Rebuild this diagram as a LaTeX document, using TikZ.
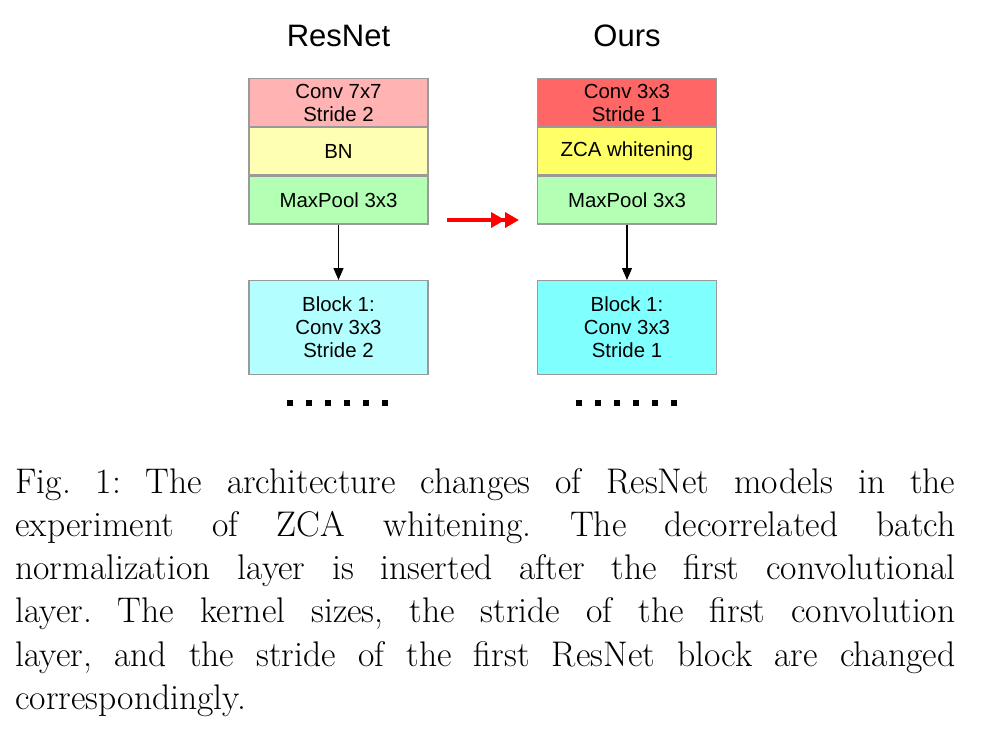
\documentclass[tikz,border=0pt]{standalone}
\usepackage{fontspec}
\setsansfont{Liberation Sans}
\usetikzlibrary{arrows.meta, positioning}
\definecolor{convA}{HTML}{FFB3B3}
\definecolor{convB}{HTML}{FF6666}
\definecolor{normA}{HTML}{FFFFB3}
\definecolor{normB}{HTML}{FFFF66}
\definecolor{poolC}{HTML}{B3FFB3}
\definecolor{blockA}{HTML}{B3FFFF}
\definecolor{blockB}{HTML}{80FFFF}
\definecolor{edge}{HTML}{9A9A9A}
\tikzset{layer/.style={rectangle,draw=edge,line width=0.6pt,align=center,inner sep=0pt,minimum width=89.5bp,minimum height=24bp,font=\sffamily\fontsize{10.2bp}{11.5bp}\selectfont},
  blk/.style={layer,minimum height=47bp},
  head/.style={font=\sffamily\fontsize{15.5bp}{18bp}\selectfont},
  line/.style={-{Triangle[length=6bp,width=5bp]},line width=0.6pt},
  redline/.style={-{Triangle[length=7bp,width=7.5bp]Triangle[length=7bp,width=7.5bp]},red,line width=1.8pt}}

\begin{document}
\begin{tikzpicture}[x=0.5bp,y=0.5bp,node distance=0pt and 0pt]
\useasboundingbox (0,0) rectangle (984,-730);
\node[head] (t1) at (338.5,-36) {ResNet};
\node[head] (t2) at (627,-36) {Ours};
% left column
\node[layer,fill=convA,anchor=north] (c1) at (338.5,-78) {Conv 7x7\\Stride 2};
\node[layer,fill=normA,below=of c1,minimum height=23.5bp] (n1) {BN};
\node[layer,fill=poolC,below=of n1] (p1) {MaxPool 3x3};
\node[blk,fill=blockA,anchor=north] (b1) at (338.5,-280) {Block 1:\\Conv 3x3\\Stride 2};
% right column
\node[layer,fill=convB,anchor=north] (c2) at (627,-78) {Conv 3x3\\Stride 1};
\node[layer,fill=normB,below=of c2,minimum height=23.5bp] (n2) {ZCA whitening};
\node[layer,fill=poolC,below=of n2] (p2) {MaxPool 3x3};
\node[blk,fill=blockB,anchor=north] (b2) at (627,-280) {Block 1:\\Conv 3x3\\Stride 1};
\draw[line] (p1) -- (b1);
\draw[line] (p2) -- (b2);
\coordinate (r1) at (447,-220);
\coordinate (r2) at (519,-220);
\draw[redline] (r1) -- (r2);
% dots
\foreach \i in {0,...,5} {
  \fill (290+19*\i-3,-400) rectangle ++(6,-6);
  \fill (579+19*\i-3,-400) rectangle ++(6,-6);
}
\node[anchor=north west,text width=470bp,align=justify,inner sep=0pt,font=\fontsize{17.8bp}{21.6bp}\selectfont\frenchspacing] (cap) at (15,-468) {Fig. 1: The architecture changes of ResNet models in the\linebreak experiment of ZCA whitening. The decorrelated batch\linebreak normalization layer is inserted after the first convolutional\linebreak layer. The kernel sizes, the stride of the first convolution\linebreak layer, and the stride of the first ResNet block are changed\linebreak correspondingly.};
\end{tikzpicture}
\end{document}
